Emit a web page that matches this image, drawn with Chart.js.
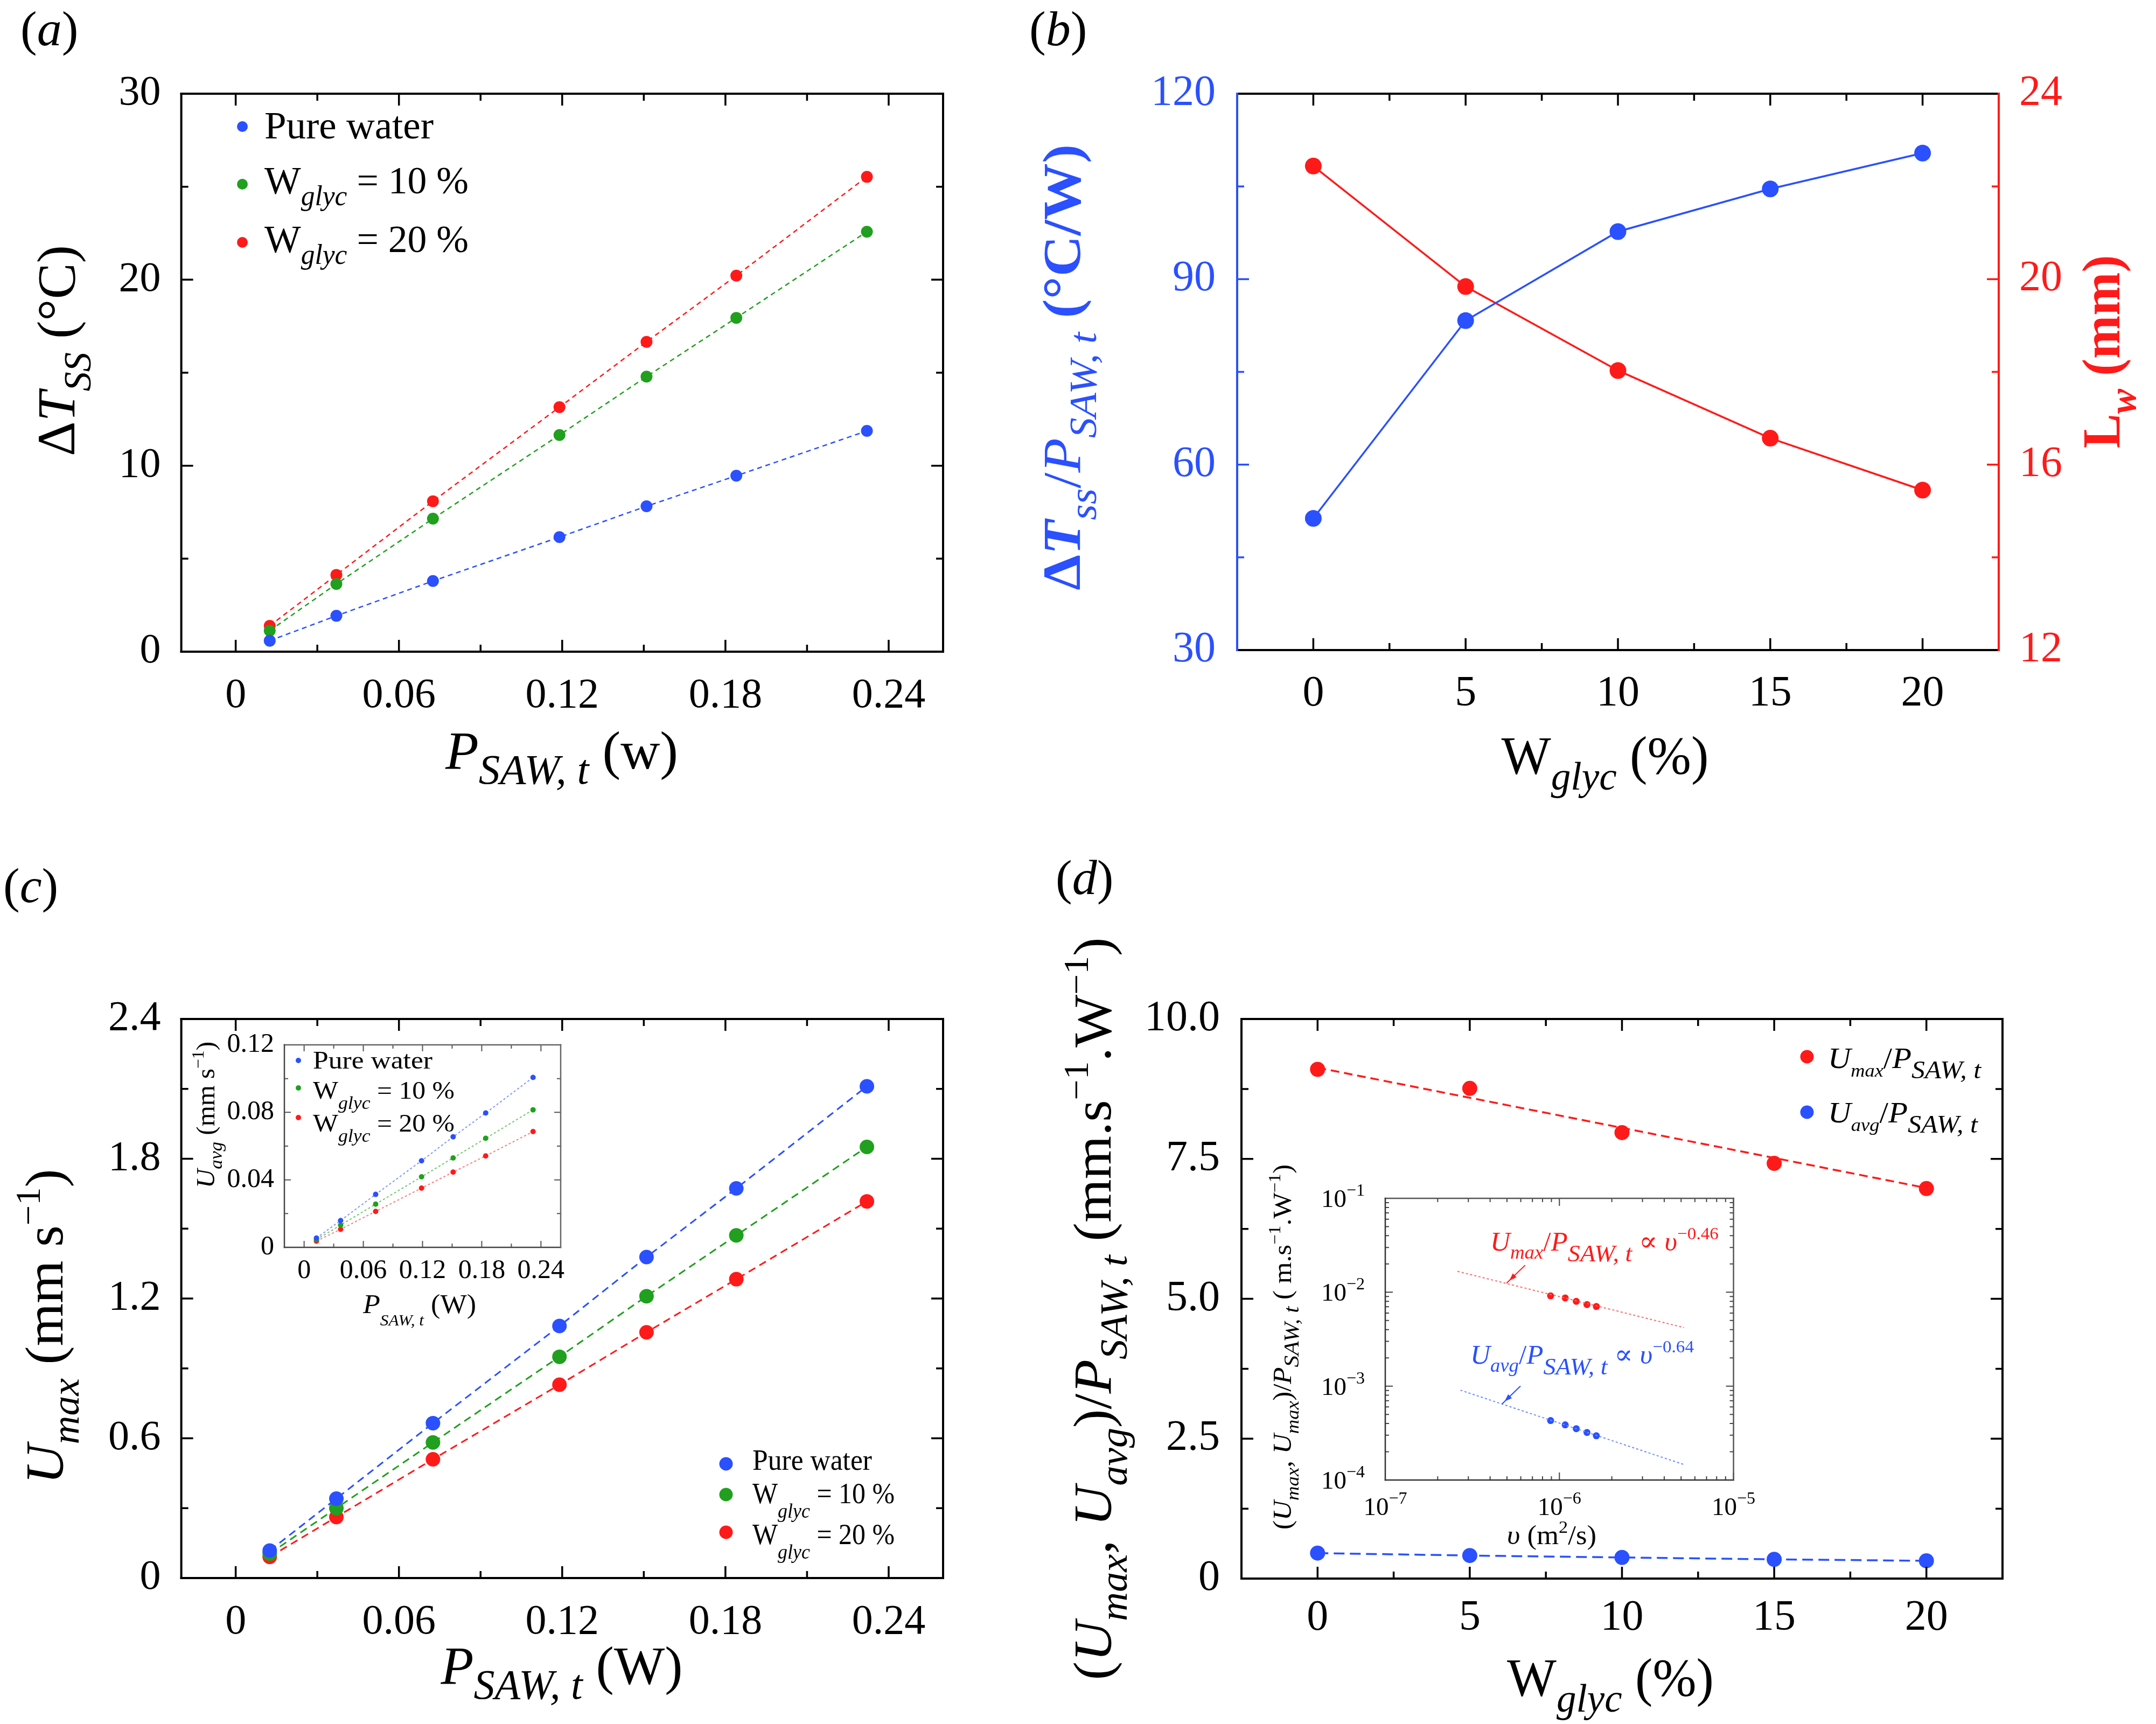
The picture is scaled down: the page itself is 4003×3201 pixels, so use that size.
<!DOCTYPE html>
<html><head><meta charset="utf-8">
<script src="https://cdn.jsdelivr.net/npm/chart.js@4.4.1/dist/chart.umd.min.js"></script>
<style>
html,body{margin:0;padding:0;background:#fff;}
body{width:4003px;height:3201px;position:relative;overflow:hidden;}
canvas{position:absolute;}
</style></head><body>
<canvas id="pa"></canvas><canvas id="pb"></canvas><canvas id="pc"></canvas><canvas id="pd"></canvas>
<canvas id="pci"></canvas><canvas id="pdi"></canvas>
<script>
// ---------------- DATA ----------------
const powerW      = [0.0125, 0.037, 0.0725, 0.119, 0.151, 0.184, 0.232];
const dTssWater   = [0.59, 1.93, 3.80, 6.16, 7.82, 9.46, 11.87];
const dTssGlyc10  = [1.13, 3.64, 7.15, 11.65, 14.79, 17.95, 22.58];
const dTssGlyc20  = [1.39, 4.13, 8.09, 13.15, 16.66, 20.22, 25.53];

const glycPct       = [0, 5, 10, 15, 20];
const dTssPerPower  = [51.3, 83.3, 97.7, 104.6, 110.4];
const wavelengthLw  = [22.44, 19.84, 18.03, 16.57, 15.45];

const uMaxWater  = [0.118, 0.341, 0.665, 1.082, 1.378, 1.673, 2.111];
const uMaxGlyc10 = [0.105, 0.300, 0.582, 0.950, 1.210, 1.471, 1.851];
const uMaxGlyc20 = [0.091, 0.262, 0.510, 0.830, 1.055, 1.283, 1.617];
const uAvgWater  = [0.0055, 0.0159, 0.0314, 0.0513, 0.0655, 0.0796, 0.1007];
const uAvgGlyc10 = [0.0046, 0.0132, 0.0256, 0.0418, 0.0530, 0.0646, 0.0815];
const uAvgGlyc20 = [0.0037, 0.0107, 0.0213, 0.0351, 0.0446, 0.0542, 0.0686];

const uMaxPerPower = [9.10, 8.76, 7.97, 7.42, 6.97];
const uAvgPerPower = [0.455, 0.412, 0.378, 0.344, 0.318];
const uMaxFitPct   = [0, 20];
const uMaxFitVal   = [9.13, 6.98];

const viscosity       = [8.9e-7, 1.08e-6, 1.25e-6, 1.44e-6, 1.63e-6];
const uMaxPerPowerSI  = [9.15e-3, 8.7e-3, 8.0e-3, 7.4e-3, 7.05e-3];
const uAvgPerPowerSI  = [4.3e-4, 3.87e-4, 3.52e-4, 3.21e-4, 2.96e-4];
const fitViscRed  = [2.6e-7, 5.2e-6];
const fitRed      = [1.67e-2, 4.2e-3];
const fitViscBlue = [2.7e-7, 5.2e-6];
const fitBlue     = [9.06e-4, 1.46e-4];
const arrowTipRed  = [5.0e-7, 1.26e-2];
const arrowTipBlue = [4.7e-7, 6.5e-4];

// tick values / labels
const powerTicks = [0, 0.06, 0.12, 0.18, 0.24];
const powerTickLabels = ['0', '0.06', '0.12', '0.18', '0.24'];
const powerMinor = [0.03, 0.09, 0.15, 0.21];
const dTssTicks = [0, 10, 20, 30];
const dTssTickLabels = ['0', '10', '20', '30'];
const dTssMinor = [5, 15, 25];
const glycTicks = [0, 5, 10, 15, 20];
const glycTickLabels = ['0', '5', '10', '15', '20'];
const glycMinor = [2.5, 7.5, 12.5, 17.5];
const ratioTicks = [30, 60, 90, 120];
const ratioTickLabels = ['30', '60', '90', '120'];
const ratioMinor = [45, 75, 105];
const lwTicks = [12, 16, 20, 24];
const lwTickLabels = ['12', '16', '20', '24'];
const lwMinor = [14, 18, 22];
const uMaxTicks = [0, 0.6, 1.2, 1.8, 2.4];
const uMaxTickLabels = ['0', '0.6', '1.2', '1.8', '2.4'];
const uMaxMinor = [0.3, 0.9, 1.5, 2.1];
const uAvgTicks = [0, 0.04, 0.08, 0.12];
const uAvgTickLabels = ['0', '0.04', '0.08', '0.12'];
const uAvgMinor = [0.02, 0.06, 0.10];
const perPowerTicks = [0, 2.5, 5, 7.5, 10];
const perPowerTickLabels = ['0', '2.5', '5.0', '7.5', '10.0'];
const perPowerMinor = [1.25, 3.75, 6.25, 8.75];
const viscTickExp = [-7, -6, -5];
const ratioLogTickExp = [-4, -3, -2, -1];

// ---------------- STYLE ----------------
const SERIF = '"Liberation Serif", "DejaVu Serif", "Noto Serif", "Times New Roman", Times, serif';
const BLUE = '#2a50ff', GREEN = '#20a01e', RED = '#ff1a1a';

// rich text helpers
const N = t => ({t});
const I = t => ({t, i: 1});
const SUB = (t, o) => Object.assign({t, i: 1, sub: 1}, o || {});
const SUP = (t, o) => Object.assign({t, sup: 1}, o || {});

function drawRich(ctx, segs, x, y, o) {
  const base = o.size;
  const parts = segs.map(s => {
    const k = s.k || (s.sub ? 0.72 : s.sup ? 0.65 : 1);
    const sz = base * k;
    const font = (s.i ? 'italic ' : '') + ((s.b || o.bold) ? 'bold ' : '') + sz.toFixed(1) + 'px ' + SERIF;
    ctx.font = font;
    const w = ctx.measureText(s.t).width;
    const dy = s.dy != null ? s.dy * base : s.sub ? 0.3 * base : s.sup ? -0.42 * base : 0;
    return {t: s.t, font, w, dy, c: s.c};
  });
  const total = parts.reduce((a, p) => a + p.w, 0);
  const sx = o.w ? o.w / total : 1;
  ctx.save();
  ctx.translate(x, y);
  if (o.rot) ctx.rotate(o.rot);
  ctx.scale(sx, 1);
  let cx = o.align === 'center' ? -total / 2 : o.align === 'right' ? -total : 0;
  ctx.textAlign = 'left'; ctx.textBaseline = 'alphabetic';
  for (const p of parts) {
    ctx.font = p.font; ctx.fillStyle = p.c || o.color || '#000';
    ctx.fillText(p.t, cx, p.dy); cx += p.w;
  }
  ctx.restore();
}

function decor(cv, d) {
  return {
    id: 'decor',
    afterDraw(chart) {
      const ctx = chart.ctx, ca = chart.chartArea;
      ctx.save();
      ctx.lineCap = 'butt';
      for (const t of d.ticks) {
        const s = chart.scales[t.scale];
        ctx.strokeStyle = t.color || '#000';
        ctx.lineWidth = t.lw || 3.5;
        const draw = (v, len) => {
          const p = s.getPixelForValue(v);
          ctx.beginPath();
          for (const side of t.sides) {
            if (side === 'b') { ctx.moveTo(p, ca.bottom); ctx.lineTo(p, ca.bottom - len); }
            if (side === 't') { ctx.moveTo(p, ca.top); ctx.lineTo(p, ca.top + len); }
            if (side === 'l') { ctx.moveTo(ca.left, p); ctx.lineTo(ca.left + len, p); }
            if (side === 'r') { ctx.moveTo(ca.right, p); ctx.lineTo(ca.right - len, p); }
          }
          ctx.stroke();
        };
        t.major.forEach(v => draw(v, t.len || 22));
        (t.minor || []).forEach(v => draw(v, t.mlen || 13));
      }
      const f = d.frame;
      ctx.lineWidth = f.lw;
      ctx.lineCap = 'square';
      const side = (c, x1, y1, x2, y2) => { ctx.strokeStyle = c; ctx.beginPath(); ctx.moveTo(x1, y1); ctx.lineTo(x2, y2); ctx.stroke(); };
      side(f.t || '#000', ca.left, ca.top, ca.right, ca.top);
      side(f.b || '#000', ca.left, ca.bottom, ca.right, ca.bottom);
      side(f.l || '#000', ca.left, ca.top, ca.left, ca.bottom);
      side(f.r || '#000', ca.right, ca.top, ca.right, ca.bottom);
      if (d.extra) d.extra(ctx, chart);
      ctx.translate(-cv.x, -cv.y);
      for (const m of d.markers || []) {
        ctx.fillStyle = m.color; ctx.beginPath(); ctx.arc(m.x, m.y, m.r, 0, Math.PI * 2); ctx.fill();
      }
      for (const tx of d.texts || []) drawRich(ctx, tx.segs, tx.x, tx.y, tx);
      ctx.restore();
    }
  };
}

function linScale(pos, min, max, vals, labels, o) {
  return {
    type: 'linear', position: pos, min, max,
    grid: {display: false}, border: {display: false},
    ticks: {display: true, autoSkip: false, maxRotation: 0, minRotation: 0, padding: o.pad,
      color: o.color || '#000', font: {family: SERIF, size: o.size}, callback: (v, i) => labels[i]},
    afterBuildTicks: s => { s.ticks = vals.map(v => ({value: v})); }
  };
}
function logScale(pos, min, max, vals) {
  return {
    type: 'logarithmic', position: pos, min, max,
    grid: {display: false}, border: {display: false},
    ticks: {display: false},
    afterBuildTicks: s => { s.ticks = vals.map(v => ({value: v})); }
  };
}
function series(xs, ys, color, o) {
  return {
    data: xs.map((x, i) => ({x, y: ys[i]})),
    borderColor: o.lineColor || color, backgroundColor: color, pointBackgroundColor: color,
    showLine: true, borderWidth: o.lw, borderDash: o.dash || [],
    pointRadius: o.r, pointHoverRadius: o.r, pointBorderWidth: 0,
    yAxisID: o.yAxis || 'y', fill: false, tension: 0
  };
}

function makePanel(id, cv, box, cfg) {
  const el = document.getElementById(id);
  el.width = cv.w; el.height = cv.h;
  Object.assign(el.style, {left: cv.x + 'px', top: cv.y + 'px', width: cv.w + 'px', height: cv.h + 'px'});
  const AW = cfg.aw || 240, AH = cfg.ah || 140;
  const hasRight = !!cfg.scales.y1;
  const pad = {
    left: box.l - cv.x - AW, top: box.t - cv.y,
    right: cv.x + cv.w - box.r - (hasRight ? AW : 0),
    bottom: cv.y + cv.h - box.b - AH
  };
  for (const [k, sc] of Object.entries(cfg.scales)) {
    const isX = k === 'x';
    sc.afterFit = s => {
      if (isX) s.height = AH; else s.width = AW;
      s.paddingLeft = s.paddingRight = s.paddingTop = s.paddingBottom = 0;
    };
  }
  return new Chart(el, {
    type: 'scatter',
    data: {datasets: cfg.datasets},
    options: {
      responsive: false, animation: false, devicePixelRatio: 1,
      layout: {padding: pad},
      plugins: {legend: {display: false}, tooltip: {enabled: false}, title: {display: false}},
      scales: cfg.scales
    },
    plugins: [decor(cv, cfg.decor)]
  });
}

const ROT = -Math.PI / 2;
const logMinors = (from, to) => { const a = []; for (let e = from; e < to; e++) for (let m = 2; m <= 9; m++) a.push(m * Math.pow(10, e)); return a; };

// ---------------- PANEL (a) ----------------
makePanel('pa', {x: 0, y: 0, w: 1900, h: 1560}, {l: 336.6, t: 174, r: 1751, b: 1210}, {
  datasets: [
    series(powerW, dTssWater, BLUE, {lw: 2.5, dash: [9, 7], r: 11}),
    series(powerW, dTssGlyc10, GREEN, {lw: 2.5, dash: [9, 7], r: 11}),
    series(powerW, dTssGlyc20, RED, {lw: 2.5, dash: [9, 7], r: 11})
  ],
  scales: {
    x: linScale('bottom', -0.02, 0.26, powerTicks, powerTickLabels, {size: 78, pad: 28}),
    y: linScale('left', 0, 30, dTssTicks, dTssTickLabels, {size: 78, pad: 30})
  },
  decor: {
    frame: {lw: 4},
    ticks: [
      {scale: 'x', major: powerTicks, minor: powerMinor, sides: ['b', 't']},
      {scale: 'y', major: dTssTicks, minor: dTssMinor, sides: ['l', 'r']}
    ],
    markers: [
      {x: 450, y: 235, r: 10, color: BLUE}, {x: 450, y: 342, r: 10, color: GREEN}, {x: 450, y: 450, r: 10, color: RED}
    ],
    texts: [
      {segs: [N('('), I('a'), N(')')], x: 38, y: 84, size: 92, align: 'left'},
      {segs: [I('P'), SUB('SAW, t', {k: 0.78, dy: 0.28}), N(' (w)')], x: 1043, y: 1427, size: 100, w: 432, align: 'center'},
      {segs: [N('Δ'), I('T'), SUB('SS'), N(' (°C)')], x: 138, y: 651, size: 100, w: 392, align: 'center', rot: ROT},
      {segs: [N('Pure water')], x: 491, y: 257, size: 72, w: 314, align: 'left'},
      {segs: [N('W'), SUB('glyc'), N(' = 10 %')], x: 491, y: 359, size: 72, w: 379, align: 'left'},
      {segs: [N('W'), SUB('glyc'), N(' = 20 %')], x: 491, y: 468, size: 72, w: 379, align: 'left'}
    ]
  }
});

// ---------------- PANEL (b) ----------------
makePanel('pb', {x: 1880, y: 0, w: 2123, h: 1560}, {l: 2297, t: 174, r: 3711, b: 1207}, {
  datasets: [
    series(glycPct, dTssPerPower, BLUE, {lw: 3.5, r: 15.5, yAxis: 'y'}),
    series(glycPct, wavelengthLw, RED, {lw: 3.5, r: 15.5, yAxis: 'y1'})
  ],
  scales: {
    x: linScale('bottom', -2.5, 22.5, glycTicks, glycTickLabels, {size: 80, pad: 26}),
    y: linScale('left', 30, 120, ratioTicks, ratioTickLabels, {size: 80, pad: 32, color: BLUE}),
    y1: linScale('right', 12, 24, lwTicks, lwTickLabels, {size: 80, pad: 30, color: RED})
  },
  decor: {
    frame: {lw: 4, l: BLUE, r: RED},
    ticks: [
      {scale: 'x', major: glycTicks, minor: glycMinor, sides: ['b', 't']},
      {scale: 'y', major: ratioTicks, minor: ratioMinor, sides: ['l'], color: BLUE},
      {scale: 'y1', major: lwTicks, minor: lwMinor, sides: ['r'], color: RED}
    ],
    texts: [
      {segs: [N('('), I('b'), N(')')], x: 1911, y: 84, size: 92, align: 'left'},
      {segs: [N('W'), SUB('glyc', {k: 0.75}), N(' (%)')], x: 2980, y: 1436, size: 100, w: 385, align: 'center'},
      {segs: [{t: 'Δ', b: 1}, {t: 'T', i: 1, b: 1}, SUB('ss'), N('/'), I('P'), SUB('SAW, t'), {t: ' (°C/W)', b: 1}],
        x: 2005, y: 682, size: 100, w: 828, align: 'center', rot: ROT, color: BLUE},
      {segs: [{t: 'L', b: 1}, SUB('w', {b: 1}), {t: ' (mm)', b: 1}], x: 3935, y: 653, size: 100, w: 359, align: 'center', rot: ROT, color: RED}
    ]
  }
});

// ---------------- PANEL (c) ----------------
makePanel('pc', {x: 0, y: 1560, w: 1900, h: 1641}, {l: 336.6, t: 1892, r: 1751, b: 2930}, {
  datasets: [
    series(powerW, uMaxWater, BLUE, {lw: 3, dash: [14, 9], r: 13.5}),
    series(powerW, uMaxGlyc10, GREEN, {lw: 3, dash: [14, 9], r: 13.5}),
    series(powerW, uMaxGlyc20, RED, {lw: 3, dash: [14, 9], r: 13.5})
  ],
  scales: {
    x: linScale('bottom', -0.02, 0.26, powerTicks, powerTickLabels, {size: 78, pad: 28}),
    y: linScale('left', 0, 2.4, uMaxTicks, uMaxTickLabels, {size: 78, pad: 30})
  },
  decor: {
    frame: {lw: 4},
    ticks: [
      {scale: 'x', major: powerTicks, minor: powerMinor, sides: ['b', 't']},
      {scale: 'y', major: uMaxTicks, minor: uMaxMinor, sides: ['l', 'r']}
    ],
    markers: [
      {x: 1348, y: 2718, r: 12.5, color: BLUE}, {x: 1348, y: 2775, r: 12.5, color: GREEN}, {x: 1348, y: 2845, r: 12.5, color: RED}
    ],
    texts: [
      {segs: [N('('), I('c'), N(')')], x: 6, y: 1675, size: 92, align: 'left'},
      {segs: [I('P'), SUB('SAW, t', {k: 0.78, dy: 0.28}), N(' (W)')], x: 1043, y: 3126, size: 100, w: 449, align: 'center'},
      {segs: [I('U'), SUB('max'), N(' (mm s'), SUP('−1'), N(')')], x: 116, y: 2463, size: 100, w: 585, align: 'center', rot: ROT},
      {segs: [N('Pure water')], x: 1397, y: 2729, size: 54, w: 222, align: 'left'},
      {segs: [N('W'), SUB('glyc', {dy: 0.5}), N(' = 10 %')], x: 1397, y: 2791, size: 54, w: 264, align: 'left'},
      {segs: [N('W'), SUB('glyc', {dy: 0.5}), N(' = 20 %')], x: 1397, y: 2867, size: 54, w: 264, align: 'left'}
    ]
  }
});

// ---------------- PANEL (d) ----------------
makePanel('pd', {x: 1880, y: 1560, w: 2123, h: 1641}, {l: 2305, t: 1892, r: 3718, b: 2931}, {
  datasets: [
    series(uMaxFitPct, uMaxFitVal, RED, {lw: 3.5, dash: [16, 9], r: 0}),
    series(glycPct, uMaxPerPower, RED, {lw: 0, r: 14}),
    series(glycPct, uAvgPerPower, BLUE, {lw: 3.5, dash: [20, 10], r: 14})
  ],
  scales: {
    x: linScale('bottom', -2.5, 22.5, glycTicks, glycTickLabels, {size: 80, pad: 18}),
    y: linScale('left', 0, 10, perPowerTicks, perPowerTickLabels, {size: 80, pad: 32})
  },
  decor: {
    frame: {lw: 4},
    ticks: [
      {scale: 'x', major: glycTicks, minor: glycMinor, sides: ['b', 't']},
      {scale: 'y', major: perPowerTicks, minor: perPowerMinor, sides: ['l', 'r']}
    ],
    markers: [{x: 3355, y: 1962, r: 12.5, color: RED}, {x: 3355, y: 2065, r: 12.5, color: BLUE}],
    texts: [
      {segs: [N('('), I('d'), N(')')], x: 1960, y: 1660, size: 92, align: 'left'},
      {segs: [N('W'), SUB('glyc', {k: 0.75}), N(' (%)')], x: 2990, y: 3148, size: 100, w: 384, align: 'center'},
      {segs: [N('('), I('U'), SUB('max'), N(', '), I('U'), SUB('avg'), N(')/'), I('P'), SUB('SAW, t'), N(' (mm.s'), SUP('−1'), N('.W'), SUP('−1'), N(')')],
        x: 2062, y: 2430, size: 100, w: 1379, align: 'center', rot: ROT},
      {segs: [I('U'), SUB('max', {k: 0.62}), N('/'), I('P'), SUB('SAW, t', {k: 0.85, dy: 0.35})], x: 3394, y: 1983, size: 54, w: 284, align: 'left'},
      {segs: [I('U'), SUB('avg', {k: 0.62}), N('/'), I('P'), SUB('SAW, t', {k: 0.85, dy: 0.35})], x: 3394, y: 2084, size: 54, w: 278, align: 'left'}
    ]
  }
});

// ---------------- INSET (c) ----------------
makePanel('pci', {x: 340, y: 1900, w: 760, h: 580}, {l: 528, t: 1940, r: 1041, b: 2316}, {
  aw: 160, ah: 90,
  datasets: [
    series(powerW, uAvgWater, BLUE, {lw: 2, dash: [4, 4], r: 5, lineColor: '#7d95ff'}),
    series(powerW, uAvgGlyc10, GREEN, {lw: 2, dash: [4, 4], r: 5, lineColor: '#6cc86a'}),
    series(powerW, uAvgGlyc20, RED, {lw: 2, dash: [4, 4], r: 5, lineColor: '#ff7b7b'})
  ],
  scales: {
    x: linScale('bottom', -0.02, 0.26, powerTicks, powerTickLabels, {size: 50, pad: 6}),
    y: linScale('left', 0, 0.12, uAvgTicks, uAvgTickLabels, {size: 50, pad: 11})
  },
  decor: {
    frame: {lw: 2.5, t: '#666', b: '#444', l: '#444', r: '#666'},
    ticks: [
      {scale: 'x', major: powerTicks, minor: powerMinor, sides: ['b', 't'], len: 12, mlen: 7, lw: 2, color: '#555'},
      {scale: 'y', major: uAvgTicks, minor: uAvgMinor, sides: ['l', 'r'], len: 12, mlen: 7, lw: 2, color: '#555'}
    ],
    markers: [{x: 554, y: 1969, r: 5, color: BLUE}, {x: 554, y: 2020, r: 5, color: GREEN}, {x: 554, y: 2075, r: 5, color: RED}],
    texts: [
      {segs: [I('P'), SUB('SAW, t', {k: 0.6, dy: 0.45}), N(' (W)')], x: 779, y: 2438, size: 50, w: 210, align: 'center'},
      {segs: [I('U'), SUB('avg'), N(' (mm s'), SUP('−1'), N(')')], x: 398, y: 2070, size: 48, w: 272, align: 'center', rot: ROT},
      {segs: [N('Pure water')], x: 581, y: 1984, size: 47, w: 222, align: 'left'},
      {segs: [N('W'), SUB('glyc', {dy: 0.4}), N(' = 10 %')], x: 581, y: 2040, size: 47, w: 263, align: 'left'},
      {segs: [N('W'), SUB('glyc', {dy: 0.4}), N(' = 20 %')], x: 581, y: 2101, size: 47, w: 263, align: 'left'}
    ]
  }
});

// ---------------- INSET (d) ----------------
makePanel('pdi', {x: 2330, y: 2140, w: 1010, h: 760}, {l: 2572, t: 2225, r: 3218.6, b: 2748}, {
  aw: 120, ah: 100,
  datasets: [
    series(fitViscRed, fitRed, RED, {lw: 2, dash: [4, 4], r: 0, lineColor: '#ff6a6a'}),
    series(fitViscBlue, fitBlue, BLUE, {lw: 2, dash: [4, 4], r: 0, lineColor: '#6f8cff'}),
    series(viscosity, uMaxPerPowerSI, RED, {lw: 0, r: 6.5}),
    series(viscosity, uAvgPerPowerSI, BLUE, {lw: 0, r: 6.5})
  ],
  scales: {
    x: logScale('bottom', 1e-7, 1e-5, viscTickExp.map(e => Math.pow(10, e))),
    y: logScale('left', 1e-4, 1e-1, ratioLogTickExp.map(e => Math.pow(10, e)))
  },
  decor: {
    frame: {lw: 2.5, t: '#555', b: '#333', l: '#333', r: '#555'},
    ticks: [
      {scale: 'x', major: viscTickExp.map(e => Math.pow(10, e)), minor: logMinors(-7, -5), sides: ['b', 't'], len: 14, mlen: 7, lw: 2, color: '#444'},
      {scale: 'y', major: ratioLogTickExp.map(e => Math.pow(10, e)), minor: logMinors(-4, -1), sides: ['l', 'r'], len: 14, mlen: 7, lw: 2, color: '#444'}
    ],
    extra: (ctx, chart) => {
      const xs = chart.scales.x, ys = chart.scales.y, ca = chart.chartArea;
      for (const e of viscTickExp) {
        const p = xs.getPixelForValue(Math.pow(10, e));
        drawRich(ctx, [N('10'), SUP('−' + Math.abs(e), {k: 0.68, dy: -0.45})], p, ca.bottom + 65, {size: 47, align: 'center'});
      }
      for (const e of ratioLogTickExp) {
        const p = ys.getPixelForValue(Math.pow(10, e));
        drawRich(ctx, [N('10'), SUP('−' + Math.abs(e), {k: 0.68, dy: -0.45})], ca.left - 38, p + 16, {size: 47, align: 'right'});
      }
      const arrow = (tip, color) => {
        const tx = xs.getPixelForValue(tip[0]), ty = ys.getPixelForValue(tip[1]);
        const sx = tx + 33, sy = ty - 32;
        ctx.strokeStyle = color; ctx.fillStyle = color; ctx.lineWidth = 2;
        ctx.beginPath(); ctx.moveTo(sx, sy); ctx.lineTo(tx, ty); ctx.stroke();
        const ang = Math.atan2(ty - sy, tx - sx), hx = tx - 6 * Math.cos(ang), hy = ty - 6 * Math.sin(ang);
        ctx.beginPath();
        ctx.moveTo(hx, hy);
        ctx.lineTo(hx - 14 * Math.cos(ang) + 5 * Math.sin(ang), hy - 14 * Math.sin(ang) - 5 * Math.cos(ang));
        ctx.lineTo(hx - 14 * Math.cos(ang) - 5 * Math.sin(ang), hy - 14 * Math.sin(ang) + 5 * Math.cos(ang));
        ctx.closePath(); ctx.fill();
      };
      arrow(arrowTipRed, RED);
      arrow(arrowTipBlue, BLUE);
    },
    texts: [
      {segs: [I('υ'), N(' (m'), SUP('2'), N('/s)')], x: 2881, y: 2867, size: 50, w: 166, align: 'center'},
      {segs: [N('('), I('U'), SUB('max'), N(', '), I('U'), SUB('max'), N(')/'), I('P'), SUB('SAW, t', {k: 0.85}), N(' ( m.s'), SUP('−1'), N('.W'), SUP('−1'), N(')')],
        x: 2397, y: 2501, size: 48, w: 678, align: 'center', rot: ROT},
      {segs: [I('U'), SUB('max'), N('/'), I('P'), SUB('SAW, t', {k: 0.9, dy: 0.4}), N(' ∝ '), I('υ'), SUP('−0.46')],
        x: 2767, y: 2322, size: 50, w: 424, align: 'left', color: RED},
      {segs: [I('U'), SUB('avg'), N('/'), I('P'), SUB('SAW, t', {k: 0.9, dy: 0.4}), N(' ∝ '), I('υ'), SUP('−0.64')],
        x: 2730, y: 2532, size: 50, w: 415, align: 'left', color: BLUE}
    ]
  }
});
</script>
</body></html>
